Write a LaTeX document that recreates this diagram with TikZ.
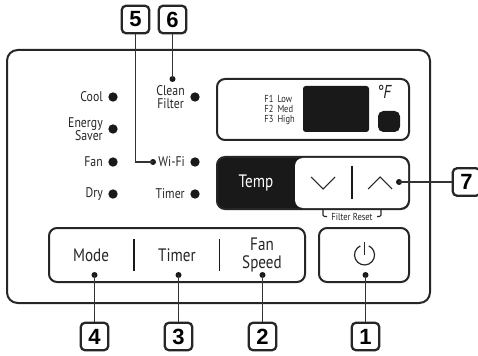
\documentclass[tikz,border=0pt]{standalone}
\usepackage{fontspec}
\setmainfont[FakeStretch=0.84]{PT Sans}
\newfontfamily\numfont{Liberation Sans}
\tikzset{
 x=0.75pt,y=-0.75pt,
 panel/.style={draw=black!85,line width=1.5pt,rounded corners=6pt},
 numbox/.style={draw=black!85,line width=1.7pt,rounded corners=3pt,minimum width=20.5pt,minimum height=20.5pt,inner sep=0pt,font=\numfont\bfseries\fontsize{16.5}{17}\selectfont},
 led/.style={circle,fill=black!90,minimum size=7pt,inner sep=0pt},
 tick/.style={circle,fill=black!90,minimum size=4.5pt,inner sep=0pt},
 lbl/.style={inner sep=0pt,align=center,font=\fontsize{10.5}{10}\selectfont,text=black!85},
 keylbl/.style={inner sep=0pt,align=center,font=\fontsize{13.5}{13}\selectfont,text=black!85},
 conn/.style={draw=black!80,line width=1.1pt},
 sep/.style={draw=black!90,line width=1.3pt},
}
\begin{document}
\begin{tikzpicture}
\useasboundingbox[fill=white] (0,0) rectangle (478,356);
% panels
\draw[panel,rounded corners=8pt] (7,50) rectangle (430,303);
\draw[panel] (217,79) rectangle (409,140);
\fill[black!90,rounded corners=2pt] (303,86) rectangle (369,132);
\fill[black!90,rounded corners=4pt] (378,111) rectangle (400,132);
\draw[panel,fill=black!90] (217,157) rectangle (409,209);
\fill[white,rounded corners=6pt] (295,158) rectangle (408,208);
\draw[panel] (49,228) rectangle (305,282);
\draw[panel] (319,228) rectangle (409,282);
% display text
\node[lbl,font=\fontsize{7.6}{7.3}\selectfont,align=left,anchor=east] (modes) at (295,110) {F1\hspace{3pt}Low\\F2\hspace{3pt}Med\\F3\hspace{3pt}High};
\node[inner sep=0pt,font=\fontsize{14}{14}\selectfont\itshape,text=black!85] (deg) at (384,92) {°F};
% temp
\node[keylbl,text=white] (temp) at (256,183) {Temp};
\draw[black!85,line width=0.8pt] (311,177)--(323,189)--(335,177);
\draw[black!85,line width=0.8pt] (368,189)--(380,177)--(392,189);
\draw[sep] (352,166)--(352,199);
% filter reset
\node[lbl,font=\fontsize{7.6}{7}\selectfont] (freset) at (352,216.5) {Filter Reset};
\draw[black!85,line width=0.8pt,rounded corners=1pt] (323,209)--(323,216.5)--(327,216.5);
\draw[black!85,line width=0.8pt,rounded corners=1pt] (381,209)--(381,216.5)--(377,216.5);
% LED labels
\node[led] (cool) at (113,97) {};
\node[led] (esaver) at (113,129) {};
\node[led] (fan) at (113,162) {};
\node[led] (dry) at (113,194) {};
\node[led] (clean) at (195,97) {};
\node[led] (wifi) at (195,162) {};
\node[led] (timerled) at (195,194) {};
\node[lbl,anchor=east] (lcool) at (103,97) {Cool};
\node[lbl,align=right,anchor=east] (lesaver) at (103,129.5) {Energy\\Saver};
\node[lbl,anchor=east] (lfan) at (103,162) {Fan};
\node[lbl,anchor=east] (ldry) at (103,194) {Dry};
\node[lbl,align=center,anchor=east] (lclean) at (185,97) {Clean\\Filter};
\node[lbl,anchor=east] (lwifi) at (185,162) {Wi-Fi};
\node[lbl,anchor=east] (ltimer) at (185,194) {Timer};
% buttons
\node[keylbl] (mode) at (91,255.5) {Mode};
\node[keylbl] (timer) at (177,255.5) {Timer};
\node[keylbl] (fsp) at (262,255) {Fan\\Speed};
\draw[sep] (134,239)--(134,271);
\draw[sep] (219.5,239)--(219.5,271);
\draw[black!85,line width=0.9pt] (364.5,242)--(364.5,255);
\draw[black!85,line width=0.9pt] (360.3,245.9) arc[start angle=245,end angle=-65,radius=10];
% numbered boxes
\node[numbox] (n5) at (135.5,19.5) {5};
\node[numbox] (n6) at (172.5,19.5) {6};
\node[numbox] (n7) at (466.5,182) {7};
\node[numbox] (n4) at (94.5,336.5) {4};
\node[numbox] (n3) at (178.5,336.5) {3};
\node[numbox] (n2) at (262.5,336.5) {2};
\node[numbox] (n1) at (365.5,336.5) {1};
% tick dots
\node[tick] (t5) at (153,162) {};
\node[tick] (t6) at (172.5,79) {};
\node[tick] (t7) at (399,182) {};
\node[tick] (t4) at (94.5,275) {};
\node[tick] (t3) at (178.5,275) {};
\node[tick] (t2) at (262.5,275) {};
\node[tick] (t1) at (365.5,275) {};
% connectors
\draw[conn] (n5.south) |- (t5.center);
\draw[conn] (n6.south) -- (t6.center);
\draw[conn] (n7.west) -- (t7.center);
\draw[conn] (n4.north) -- (t4.center);
\draw[conn] (n3.north) -- (t3.center);
\draw[conn] (n2.north) -- (t2.center);
\draw[conn] (n1.north) -- (t1.center);
\end{tikzpicture}
\end{document}
